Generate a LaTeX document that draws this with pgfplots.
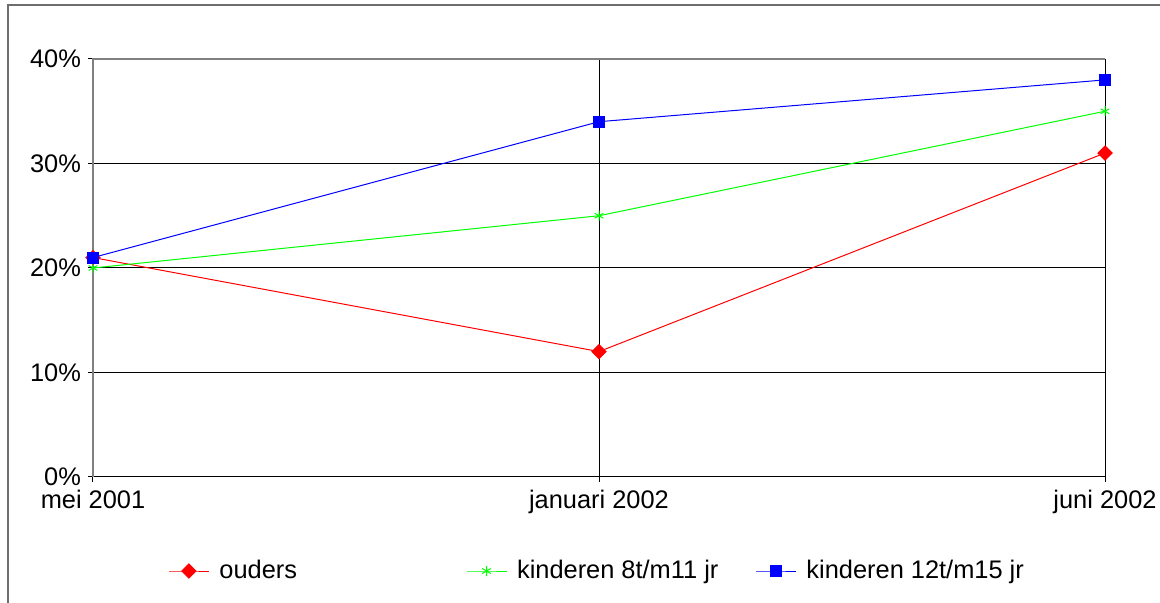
\documentclass[border=0pt]{standalone}
\usepackage{fontspec}
\setmainfont{Liberation Sans}
\usepackage{pgfplots}
\pgfplotsset{compat=1.18}
\definecolor{framegray}{RGB}{110,110,110}
\definecolor{axgray}{RGB}{128,128,128}
\begin{document}
\begin{tikzpicture}
\path[use as bounding box] (-46.5pt,-63pt) rectangle (533.5pt,238.5pt);
\draw[line width=0.8pt, framegray] (-42.5pt,-80pt) -- (-42.5pt,236pt) -- (560pt,236pt);
\begin{axis}[
 at={(0,0)}, anchor=south west,
 scale only axis, width=506pt, height=209pt,
 xmin=0, xmax=2, ymin=0, ymax=40,
 xtick={0,1,2}, xticklabels={mei 2001, januari 2002, juni 2002},
 ytick={0,10,20,30,40},
 yticklabel={\pgfmathprintnumber{\tick}\%},
 /pgf/number format/assume math mode=true,
 tick label style={font=\fontsize{12.7}{14}\selectfont},
 xticklabel style={yshift=-0.5pt},
 tick align=outside, xtick pos=bottom, ytick pos=left,
 major tick length=2.5pt,
 tick style={black, line width=0.5pt},
 grid=major, major grid style={black, line width=0.5pt},
 axis line style={draw=none},
 legend columns=3,
 legend style={at={(0.0741,-0.2249)}, anchor=west, draw=none, inner sep=0pt,
   font=\fontsize{12.7}{14}\selectfont,
   nodes={inner sep=0pt},
   /tikz/column 1/.style={column sep=5pt},
   /tikz/column 2/.style={column sep=84.5pt},
   /tikz/column 3/.style={column sep=5pt},
   /tikz/column 4/.style={column sep=18.5pt},
   /tikz/column 5/.style={column sep=5pt}},
 legend image code/.code={\draw[mark repeat=2,mark phase=2,#1] plot coordinates {(0pt,0pt)(10pt,0pt)(20pt,0pt)};},
 clip=false,
]
\draw[axgray, line width=0.7pt] (axis cs:0,0) -- (axis cs:0,40) -- (axis cs:2,40);
\addplot[color=red, line width=0.5pt, mark=square*, mark size=2.5pt, mark options={rotate=45, solid}] coordinates {(0,21)(1,12)(2,31)};
\addlegendentry{ouders}
\addplot[color=green, line width=0.5pt, mark=asterisk, mark size=2.5pt, mark options={solid}] coordinates {(0,20)(1,25)(2,35)};
\addlegendentry{kinderen 8t/m11 jr}
\addplot[color=blue, line width=0.5pt, mark=square*, mark size=2.75pt, mark options={solid}] coordinates {(0,21)(1,34)(2,38)};
\addlegendentry{kinderen 12t/m15 jr}
\end{axis}
\end{tikzpicture}
\end{document}
